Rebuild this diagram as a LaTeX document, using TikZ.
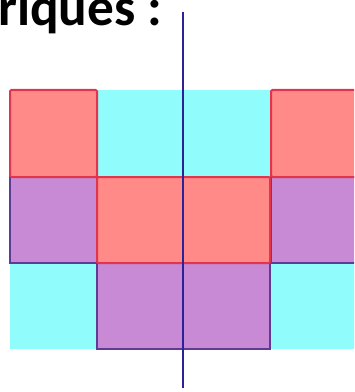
\documentclass[tikz,border=0pt]{standalone}
\usepackage{fontspec}
\setmainfont{Carlito}
\definecolor{rouge}{HTML}{FF8A88}
\definecolor{bordrouge}{HTML}{E3344E}
\definecolor{cyan}{HTML}{90FCFC}
\definecolor{violet}{HTML}{C88AD4}
\definecolor{bordviolet}{HTML}{5E3C96}
\definecolor{axe}{HTML}{2A2296}
\tikzset{
  celcyan/.style={fill=cyan},
  celviolet/.style={fill=violet,draw=bordviolet,line width=1.5pt},
  celrouge/.style={fill=rouge,draw=bordrouge,line width=1.5pt,rounded corners=1pt},
  titre/.style={font=\bfseries\fontsize{40}{44}\selectfont,anchor=base west,inner sep=0pt}
}
\begin{document}
\begin{tikzpicture}[x=0.75pt,y=-0.75pt]
  \useasboundingbox (0,0) rectangle (354,392);
  \clip (0,0) rectangle (354,392);
  % cases
  \foreach \xa/\ya/\xb/\yb in {10/263/97/349,270/263/358/349,97/90/271/177}
    \fill[celcyan] (\xa,\ya) rectangle (\xb,\yb);
  \foreach \xa/\ya/\xb/\yb in {10/177/97/263,271/177/358/263,97/263/270/349}
    \draw[celviolet] (\xa,\ya) rectangle (\xb,\yb);
  \foreach \xa/\ya/\xb/\yb in {10/90/97/177,271/90/358/177,97/177/270/263}
    \draw[celrouge] (\xa,\ya) rectangle (\xb,\yb);
  % axe de symetrie
  \coordinate (haut) at (183,12);
  \coordinate (bas) at (183,388);
  \draw[axe,line width=1.6pt] (haut) -- (bas);
  \node[titre] (t) at (-2,26) {riques :};
\end{tikzpicture}
\end{document}
